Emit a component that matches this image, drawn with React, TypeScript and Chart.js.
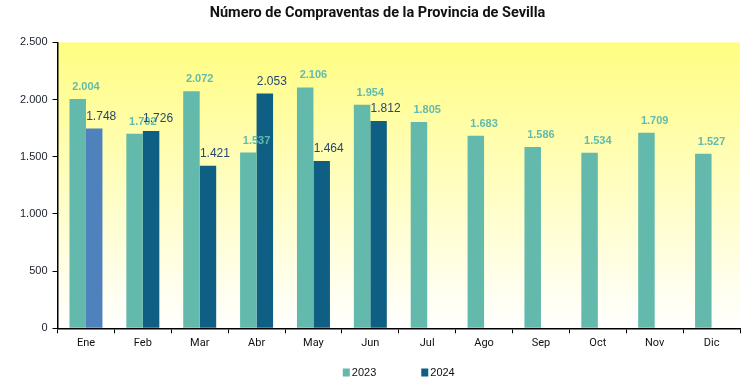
import React, { useEffect, useRef } from "react";
import { Chart, registerables } from "chart.js";

Chart.register(...registerables);

const months = ["Ene", "Feb", "Mar", "Abr", "May", "Jun", "Jul", "Ago", "Sep", "Oct", "Nov", "Dic"];
const values2023 = [2004, 1702, 2072, 1537, 2106, 1954, 1805, 1683, 1586, 1534, 1709, 1527];
const values2024 = [1748, 1726, 1421, 2053, 1464, 1812];
const seriesLabels = ["2023", "2024"];
const yTicks = [0, 500, 1000, 1500, 2000, 2500];

const fmt = (v: number) => String(Math.round(v)).replace(/\B(?=(\d{3})+(?!\d))/g, ".");

const COLOR_2023 = "#62B9AC";
const COLOR_2024 = "#0F5F84";
const COLOR_2024_FIRST = "#4F81BD";

const bgPlugin = {
  id: "bgGradient",
  beforeDraw(chart: any) {
    const { ctx, chartArea } = chart;
    if (!chartArea) return;
    const g = ctx.createLinearGradient(0, chartArea.top, 0, chartArea.bottom);
    g.addColorStop(0, "#FFFD82");
    g.addColorStop(1, "#FFFFFF");
    ctx.save();
    ctx.fillStyle = g;
    ctx.fillRect(chartArea.left, chartArea.top, chartArea.right - chartArea.left, chartArea.bottom - chartArea.top);
    ctx.restore();
  },
};

const labelPlugin = {
  id: "valueLabels",
  afterDatasetsDraw(chart: any) {
    const { ctx } = chart;
    ctx.save();
    ctx.textAlign = "center";
    ctx.textBaseline = "middle";
    chart.data.datasets.forEach((ds: any, di: number) => {
      const meta = chart.getDatasetMeta(di);
      meta.data.forEach((bar: any, i: number) => {
        const v = ds.data[i];
        if (v == null) return;
        if (di === 0) {
          ctx.font = "bold 11px 'Liberation Sans', Arial, sans-serif";
          ctx.fillStyle = "#62BBAE";
          ctx.fillText(fmt(v), bar.x + bar.width / 2, bar.y - 12);
        } else {
          ctx.font = "12px 'Liberation Sans', Arial, sans-serif";
          ctx.fillStyle = "#264773";
          ctx.fillText(fmt(v), bar.x + 7, bar.y - 12);
        }
      });
    });
    ctx.restore();
  },
};

const legendPlugin = {
  id: "customLegend",
  afterDraw(chart: any) {
    const { ctx, chartArea } = chart;
    const cx = (chartArea.left + chartArea.right) / 2;
    const y = chart.height - 14.5;
    ctx.save();
    ctx.font = "11px 'Liberation Sans', Arial, sans-serif";
    ctx.textBaseline = "middle";
    ctx.textAlign = "left";
    const box = 7;
    const gapBox = 2;
    const gapItem = 45;
    const widths = seriesLabels.map((l) => box + gapBox + ctx.measureText(l).width);
    const total = widths.reduce((a, b) => a + b, 0) + gapItem * (widths.length - 1);
    let x = cx - total / 2;
    const colors = [COLOR_2023, COLOR_2024];
    seriesLabels.forEach((l, i) => {
      ctx.fillStyle = colors[i];
      ctx.fillRect(x, y - 4, box, 8);
      ctx.fillStyle = "#111";
      ctx.fillText(l, x + box + gapBox, y + 0.5);
      x += widths[i] + gapItem;
    });
    ctx.restore();
  },
};

export default function App() {
  const ref = useRef<HTMLCanvasElement | null>(null);
  useEffect(() => {
    document.body.style.margin = "0";
    const canvas = ref.current;
    if (!canvas) return;
    const chart = new Chart(canvas, {
      type: "bar",
      data: {
        labels: months,
        datasets: [
          {
            label: seriesLabels[0],
            data: values2023,
            backgroundColor: COLOR_2023,
            categoryPercentage: 0.58,
            barPercentage: 1,
          },
          {
            label: seriesLabels[1],
            data: values2024,
            backgroundColor: (c: any) => (c.dataIndex === 0 ? COLOR_2024_FIRST : COLOR_2024),
            categoryPercentage: 0.58,
            barPercentage: 1,
          },
        ],
      },
      options: {
        animation: false,
        responsive: false,
        maintainAspectRatio: false,
        layout: { padding: { top: 0, left: 15, right: 12, bottom: 34.5 } },
        plugins: {
          legend: { display: false },
          tooltip: { enabled: false },
          title: {
            display: true,
            text: "Número de Compraventas de la Provincia de Sevilla",
            color: "#111",
            font: { family: "Roboto, 'Liberation Sans', sans-serif", size: 14.5, weight: "bold" },
            padding: { top: 5, bottom: 20 },
          },
        },
        scales: {
          x: {
            grid: { display: true, drawOnChartArea: false, drawTicks: true, tickLength: 5, color: "#000", offset: true },
            border: { display: true, color: "#000", width: 1.5 },
            ticks: {
              color: "#111",
              padding: 3,
              font: { family: "Roboto, 'Liberation Sans', sans-serif", size: 11 },
            },
          },
          y: {
            min: 0,
            max: 2500,
            afterBuildTicks: (axis: any) => {
              axis.ticks = yTicks.map((v) => ({ value: v }));
            },
            grid: { display: true, drawOnChartArea: false, drawTicks: true, tickLength: 5, color: "#000" },
            border: { display: true, color: "#000", width: 1.5 },
            ticks: {
              color: "#1B1F2A",
              padding: 5,
              font: { family: "'Liberation Sans', Arial, sans-serif", size: 11 },
              callback: (v: any) => fmt(Number(v)),
            },
          },
        },
      },
      plugins: [bgPlugin, labelPlugin, legendPlugin],
    });
    return () => chart.destroy();
  }, []);
  return (
    <div style={{ position: "absolute", left: 0, top: 0, width: 752, height: 387, background: "#fff" }}>
      <canvas ref={ref} width={752} height={387} style={{ width: 752, height: 387, display: "block" }} />
    </div>
  );
}
